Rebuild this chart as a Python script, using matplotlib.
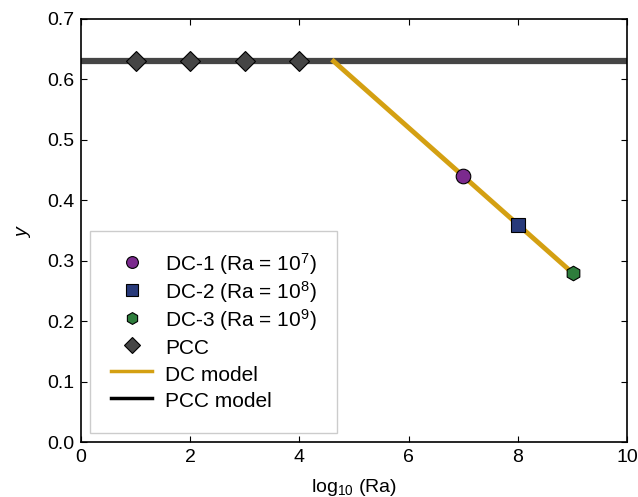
import numpy as np
import matplotlib.pyplot as plt
from matplotlib.lines import Line2D

plt.rcParams['font.family'] = ['Liberation Sans', 'DejaVu Sans']
plt.rcParams['mathtext.fontset'] = 'custom'
plt.rcParams['mathtext.rm'] = 'Liberation Sans'
plt.rcParams['mathtext.it'] = 'Liberation Sans:italic'

# DATOS
pcc_x = [1, 2, 3, 4]
pcc_y = [0.63, 0.63, 0.63, 0.63]
dc_x = [7, 8, 9]
dc_y = [0.44, 0.36, 0.28]
dc_labels = ["DC-1 (Ra = 10$^7$)", "DC-2 (Ra = 10$^8$)", "DC-3 (Ra = 10$^9$)"]
dc_markers = ["o", "s", "h"]
dc_colors = ["#7b2a8e", "#283a7a", "#2e7d3c"]
pcc_level = 0.63
dc_model_x = [4.625, 9]
dc_model_y = [0.63, 0.28]

gold = "#d4a012"
gray = "#454545"

fig, ax = plt.subplots(figsize=(6.38, 4.97), dpi=100)
fig.subplots_adjust(left=0.127, right=0.983, top=0.962, bottom=0.11)

ax.axhline(pcc_level, color=gray, lw=4.5, zorder=2)
ax.plot(dc_model_x, dc_model_y, color=gold, lw=3.5, zorder=2)
ax.plot(pcc_x, pcc_y, linestyle="none", marker="D", ms=10, mfc=gray, mec="black", mew=0.8, zorder=3)
for k in range(len(dc_x)):
    ax.plot(dc_x[k], dc_y[k], linestyle="none", marker=dc_markers[k], ms=10.5,
            mfc=dc_colors[k], mec="black", mew=0.8, zorder=3)

h = []
for k in range(len(dc_x)):
    h.append(Line2D([], [], linestyle="none", marker=dc_markers[k], ms=8.5, mfc=dc_colors[k],
                    mec="black", mew=0.8, label=dc_labels[k]))
h.append(Line2D([], [], linestyle="none", marker="D", ms=8.5, mfc=gray, mec="black", mew=0.8, label="PCC"))
h.append(Line2D([], [], color=gold, lw=2.5, label="DC model"))
h.append(Line2D([], [], color="black", lw=2.5, label="PCC model"))
# handleheight grande para que todas las filas tengan la misma altura
leg = ax.legend(handles=h, loc="lower left", bbox_to_anchor=(0, 0), fontsize=15,
                fancybox=False, edgecolor="#cccccc", framealpha=1, borderpad=1.0,
                handlelength=2.0, handleheight=1.42, handletextpad=0.6, labelspacing=0.1,
                borderaxespad=0.43)
leg.get_frame().set_linewidth(1.0)

ax.set_xlim(0, 10)
ax.set_ylim(0, 0.7)
ax.set_xticks(np.arange(0, 11, 2))
ax.set_yticks(np.arange(0, 0.71, 0.1))
ax.set_yticklabels(["%.1f" % v for v in np.arange(0, 0.71, 0.1)])
ax.tick_params(direction="in", top=True, right=True, labelsize=14, length=4, pad=5)
ax.set_xlabel("log$_{10}$ (Ra)", fontsize=14, labelpad=8)
ax.set_ylabel("$y$", fontsize=14, labelpad=10)
for s in ax.spines.values():
    s.set_linewidth(1.2)

plt.savefig("out.png", dpi=100)
